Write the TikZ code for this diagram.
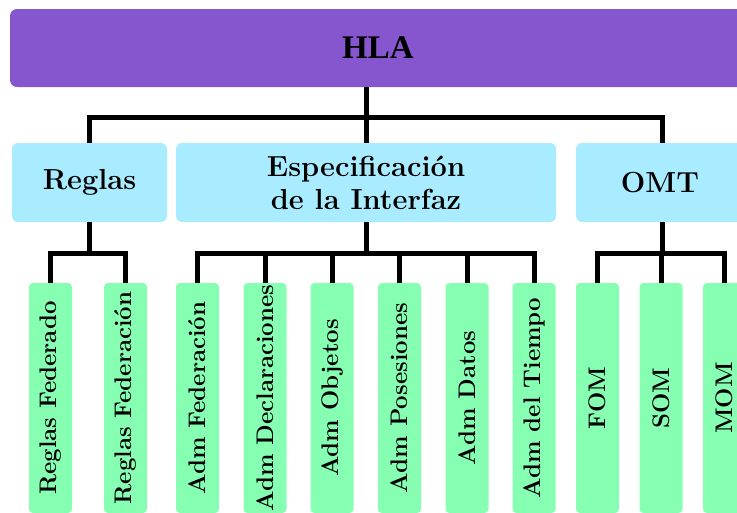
\documentclass[tikz,border=0pt]{standalone}
\usepackage{fontspec}
\newfontfamily\hlafont{Liberation Serif}
\definecolor{toppurple}{RGB}{133,86,206}
\definecolor{midcyan}{RGB}{170,236,255}
\definecolor{leafgreen}{RGB}{134,255,178}
\begin{document}
\begin{tikzpicture}[x=1pt,y=-1pt,
  topbox/.style={fill=toppurple, rounded corners=7pt, inner sep=0pt,
    minimum height=78pt, font=\hlafont\bfseries\fontsize{33}{38}\selectfont},
  midbox/.style={fill=midcyan, rounded corners=6pt, inner sep=0pt, align=center,
    minimum height=79pt, font=\bfseries\fontsize{29}{33}\selectfont},
  leafbox/.style={fill=leafgreen, rounded corners=4pt, inner sep=0pt,
    minimum width=43pt, minimum height=230pt, font=\bfseries\fontsize{24}{28}\selectfont},
  link/.style={draw=black, line width=5pt}]
\useasboundingbox (0,0) rectangle (737,512);
\clip (0,0) rectangle (737,512);

% level 0
\node[topbox, minimum width=736pt] (hla) at (378,48) {HLA};

% level 1
\node[midbox, minimum width=155pt] (reg) at (89.5,182.5) {Reglas};
\node[midbox, minimum width=380pt] (esp) at (366,182.5) {Especificación\\de la Interfaz};
\node[midbox, minimum width=168pt] (omt) at (660,182.5) {OMT};

% level 2
\node[leafbox] (rfed)  at (50.5,398)  {\rotatebox{90}{Reglas Federado}};
\node[leafbox] (rfn)   at (125.5,398) {\rotatebox{90}{Reglas Federación}};
\node[leafbox] (afed)  at (197.5,398) {\rotatebox{90}{Adm Federación}};
\node[leafbox] (adec)  at (265,398)   {\rotatebox{90}{Adm Declaraciones}};
\node[leafbox] (aobj)  at (332,398)   {\rotatebox{90}{Adm Objetos}};
\node[leafbox] (apos)  at (399.5,398) {\rotatebox{90}{Adm Posesiones}};
\node[leafbox] (adat)  at (467,398)   {\rotatebox{90}{Adm Datos}};
\node[leafbox] (atie)  at (534,398)   {\rotatebox{90}{Adm del Tiempo}};
\node[leafbox] (fom)   at (597.5,398) {\rotatebox{90}{FOM}};
\node[leafbox] (som)   at (661,398)   {\rotatebox{90}{SOM}};
\node[leafbox] (mom)   at (724.5,398) {\rotatebox{90}{MOM}};

% junction points of the bus bars
\coordinate (j0) at (366,117);
\coordinate (j1) at (89,253);
\coordinate (j2) at (366,253);
\coordinate (j3) at (662,253);

% HLA to its three parts
\draw[link] (hla.south -| j0) -- (esp.north);
\draw[link] (reg.north -| 89,0) |- (j0) -| (omt.north -| 662,0);

% Reglas
\draw[link] (reg.south -| j1) -- (j1);
\draw[link] (rfed.north) |- (j1) -| (rfn.north);

% Especificacion de la Interfaz
\draw[link] (esp.south) -- (j2);
\draw[link] (afed.north) |- (j2) -| (atie.north);
\draw[link] (adec.north) -- (adec.north |- j2);
\draw[link] (aobj.north) -- (aobj.north |- j2);
\draw[link] (apos.north) -- (apos.north |- j2);
\draw[link] (adat.north) -- (adat.north |- j2);

% OMT
\draw[link] (omt.south -| j3) -- (j3);
\draw[link] (fom.north) |- (j3) -| (mom.north);
\draw[link] (som.north) -- (som.north |- j3);
\end{tikzpicture}
\end{document}
